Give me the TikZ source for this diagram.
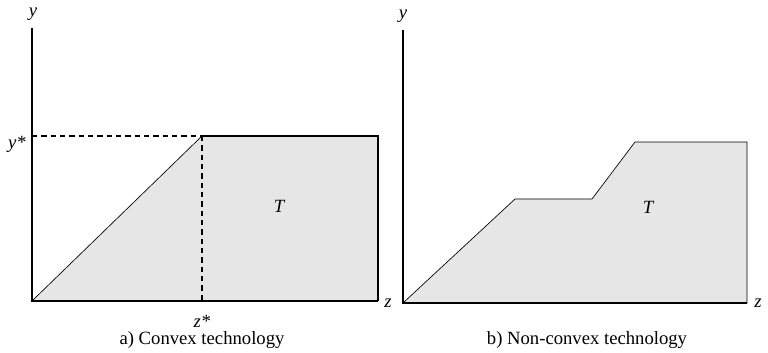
\documentclass[tikz,border=0pt]{standalone}
\usepackage{fontspec}
\setmainfont{Liberation Serif}
\definecolor{regiongray}{HTML}{E6E6E6}
\tikzset{
axis/.style={line width=1.6pt},
region/.style={fill=regiongray,draw=black,line width=0.5pt},
guide/.style={dashed,line width=1pt,dash pattern=on 4pt off 3pt},
lbl/.style={font=\fontsize{14}{16}\selectfont\itshape,inner sep=0pt},
caption/.style={font=\fontsize{14}{16}\selectfont,inner sep=0pt}
}
\begin{document}
\begin{tikzpicture}[x=0.75pt,y=-0.75pt]

\useasboundingbox (0,0) rectangle (768,353);

% a) convex
\coordinate (Oa) at (32,301);
\coordinate (Ya) at (32,28);
\coordinate (Za) at (378,301);
\coordinate (Pa) at (202,136);
\coordinate (Qa) at (378,136);
\coordinate (Ka) at (32,136);
\coordinate (Ra) at (202,301);

\fill[regiongray]
(Oa) -- (Pa) -- (Qa) -- (Za) -- cycle;
\draw[line width=0.5pt]
(Oa) -- (Pa);
\draw[line width=0.9pt]
(Pa) -- (Qa) -- (Za);

\draw[guide]
(Ka) -- (Pa);
\draw[guide]
(Pa) -- (Ra);

\draw[axis]
(Ya) -- (Oa) -- (Za);

\node[lbl]
(ya)
at (33,14)
{y};

\node[lbl]
(ystar)
at (17,144)
{y*};

\node[lbl]
(zstar)
at (202,321)
{z*};

\node[lbl]
(za)
at (388,303)
{z};

\node[lbl]
(Ta)
at (279,206)
{T};

\node[caption]
(capa)
at (202,340)
{a) Convex technology};

% b) non-convex
\coordinate (Ob) at (403,303);
\coordinate (Yb) at (403,30);
\coordinate (Zb) at (747,303);
\coordinate (B1) at (515,199);
\coordinate (B2) at (592,199);
\coordinate (B3) at (635,142);
\coordinate (B4) at (747,142);

\draw[region]
(Ob) -- (B1) -- (B2) -- (B3) -- (B4) -- (Zb) -- cycle;

\draw[axis]
(Yb) -- (Ob) -- (Zb);

\node[lbl]
(yb)
at (403,16)
{y};

\node[lbl]
(zb)
at (758,303)
{z};

\node[lbl]
(Tb)
at (648,207)
{T};

\node[caption]
(capb)
at (587,340)
{b) Non-convex technology};

\end{tikzpicture}
\end{document}
